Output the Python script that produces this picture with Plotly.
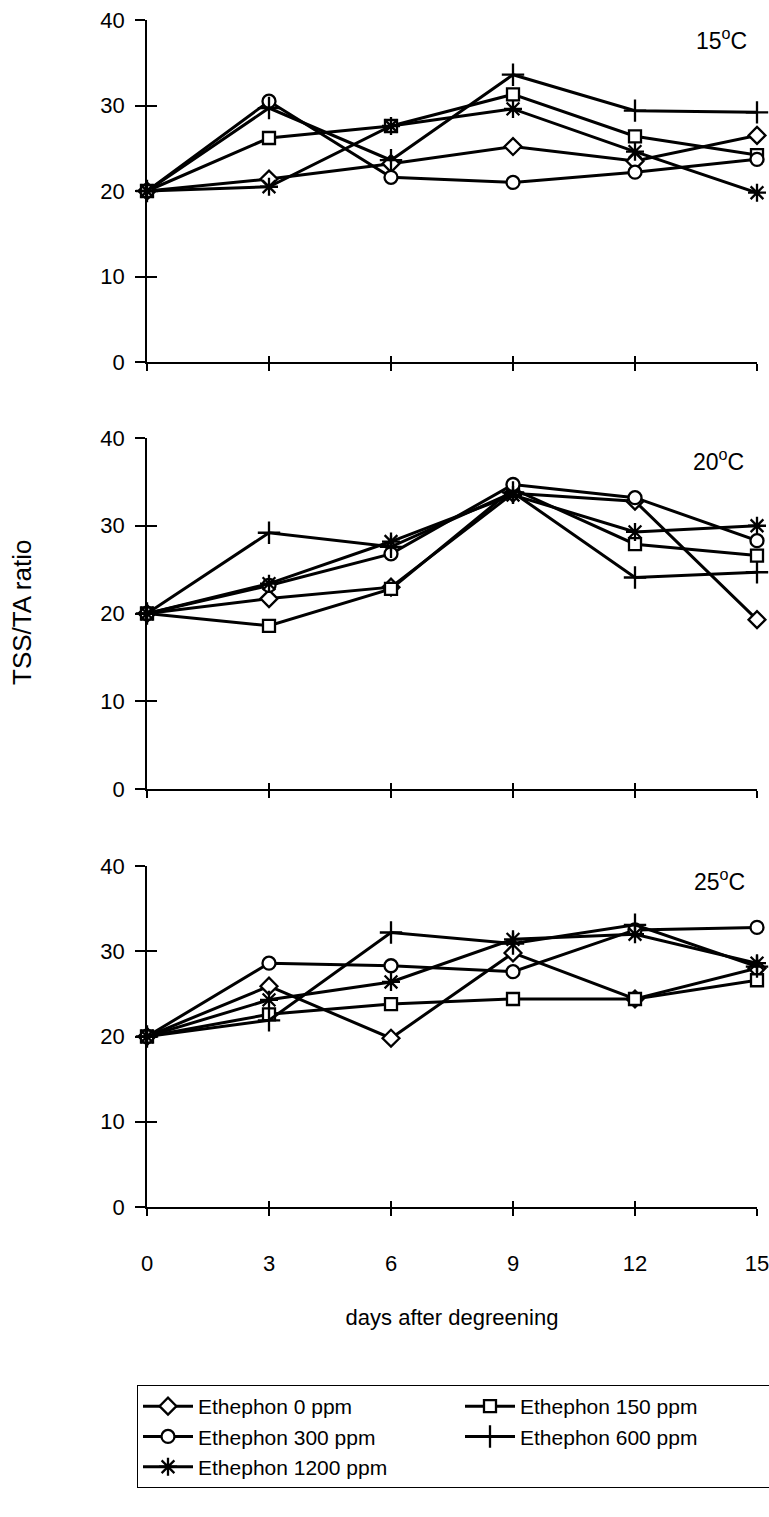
import plotly.graph_objects as go

days = [0, 3, 6, 9, 12, 15]
series_names = ["Ethephon 0 ppm", "Ethephon 150 ppm", "Ethephon 300 ppm",
                "Ethephon 600 ppm", "Ethephon 1200 ppm"]
panel_labels = ["15<sup>o</sup>C", "20<sup>o</sup>C", "25<sup>o</sup>C"]

# 15 C
t15_e0 = [20, 21.4, 23.2, 25.2, 23.5, 26.5]
t15_e150 = [20, 26.2, 27.6, 31.3, 26.4, 24.2]
t15_e300 = [20, 30.5, 21.6, 21.0, 22.2, 23.7]
t15_e600 = [20, 29.7, 23.6, 33.6, 29.4, 29.2]
t15_e1200 = [20, 20.5, 27.6, 29.6, 24.6, 19.8]

# 20 C
t20_e0 = [20, 21.7, 23.0, 33.7, 32.8, 19.3]
t20_e150 = [20, 18.6, 22.8, 34.2, 27.9, 26.6]
t20_e300 = [20, 23.2, 26.8, 34.7, 33.2, 28.3]
t20_e600 = [20, 29.2, 27.6, 33.8, 24.1, 24.7]
t20_e1200 = [20, 23.4, 28.2, 33.5, 29.3, 30.0]

# 25 C
t25_e0 = [20, 25.9, 19.8, 29.8, 24.4, 28.0]
t25_e150 = [20, 22.6, 23.8, 24.4, 24.4, 26.6]
t25_e300 = [20, 28.6, 28.3, 27.6, 32.5, 32.8]
t25_e600 = [20, 21.9, 32.2, 30.9, 33.1, 28.2]
t25_e1200 = [20, 24.3, 26.4, 31.4, 32.0, 28.6]

panels = [
    [t15_e0, t15_e150, t15_e300, t15_e600, t15_e1200],
    [t20_e0, t20_e150, t20_e300, t20_e600, t20_e1200],
    [t25_e0, t25_e150, t25_e300, t25_e600, t25_e1200],
]

symbols = ["diamond", "square", "circle", "cross-thin-open", "asterisk-open"]
fills = ["white", "white", "white", "black", "black"]
sizes = [13, 12, 13, 16, 15]

FONT = "Liberation Sans, Arial, sans-serif"
W, H = 769, 1517
ML, MR, MT, MB = 147, 12, 20, 310
ph = H - MT - MB
pw = W - ML - MR

def dom(top_px, bot_px):
    return [1 - (bot_px - MT) / ph, 1 - (top_px - MT) / ph]

domains = [dom(20, 362), dom(438, 789), dom(866, 1207)]

fig = go.Figure()

for p, series in enumerate(panels):
    xa = "x" if p == 0 else f"x{p+1}"
    ya = "y" if p == 0 else f"y{p+1}"
    for i, vals in enumerate(series):
        fig.add_trace(go.Scatter(
            x=days, y=vals, mode="lines+markers", name=series_names[i],
            xaxis=xa, yaxis=ya, showlegend=(p == 0), legendrank=i,
            line=dict(color="black", width=3),
            marker=dict(symbol=symbols[i], size=sizes[i], color=fills[i],
                        line=dict(color="black", width=2.3)),
            cliponaxis=False,
        ))
    # overlay axes to draw the inner half of crossing ticks
    ox = f"x{p+4}"
    oy = f"y{p+4}"
    fig.add_trace(go.Scatter(x=[], y=[], xaxis=ox, yaxis=ya, showlegend=False,
                             hoverinfo="skip"))
    fig.add_trace(go.Scatter(x=[], y=[], xaxis=xa, yaxis=oy, showlegend=False,
                             hoverinfo="skip"))

layout = dict(
    width=W, height=H,
    margin=dict(l=ML, r=MR, t=MT, b=MB, autoexpand=False),
    paper_bgcolor="white", plot_bgcolor="white",
    font=dict(family=FONT, color="black", size=21),
    showlegend=True,
    legend=dict(
        orientation="h", x=(137 - ML) / pw, y=-(1385 - 1207) / ph,
        xanchor="left", yanchor="top",
        bordercolor="black", borderwidth=1, bgcolor="white",
        font=dict(family=FONT, size=21, color="black"),
        entrywidth=257, entrywidthmode="pixels", itemwidth=50,
        traceorder="normal",
    ),
)

for p in range(3):
    xk = "xaxis" if p == 0 else f"xaxis{p+1}"
    yk = "yaxis" if p == 0 else f"yaxis{p+1}"
    xa = "x" if p == 0 else f"x{p+1}"
    ya = "y" if p == 0 else f"y{p+1}"
    layout[xk] = dict(
        domain=[0, 1], anchor=ya, range=[0, 15],
        tickmode="array", tickvals=days, ticktext=[str(d) for d in days],
        showticklabels=(p == 2), ticks="outside", ticklen=7, tickwidth=1.5,
        tickcolor="black", showline=True, linecolor="black", linewidth=1.5,
        showgrid=False, zeroline=False, ticklabelstandoff=29,
        ticklabeloverflow="allow",
        tickfont=dict(size=22, family=FONT),
    )
    layout[yk] = dict(
        domain=domains[p], anchor=xa, range=[0, 40],
        tickmode="array", tickvals=[0, 10, 20, 30, 40],
        ticks="outside", ticklen=10, tickwidth=1.5, tickcolor="black",
        showline=True, linecolor="black", linewidth=1.5,
        showgrid=False, zeroline=False, ticklabelstandoff=6,
        tickfont=dict(size=22, family=FONT),
    )
    layout[f"xaxis{p+4}"] = dict(
        overlaying=xa, anchor=ya, range=[0, 15], side="bottom",
        tickmode="array", tickvals=days, showticklabels=False,
        ticks="inside", ticklen=6, tickwidth=1.5, tickcolor="black",
        showline=False, showgrid=False, zeroline=False,
    )
    layout[f"yaxis{p+4}"] = dict(
        overlaying=ya, anchor=xa, range=[0, 40], side="left",
        tickmode="array", tickvals=[0, 10, 20, 30, 40], showticklabels=False,
        ticks="inside", ticklen=10, tickwidth=1.5, tickcolor="black",
        showline=False, showgrid=False, zeroline=False,
    )

layout["xaxis3"]["title"] = dict(text="days after degreening",
                                 font=dict(size=22, family=FONT), standoff=34)

annotations = []
label_pos = [(0.941, 0.945), (0.937, 0.937), (0.939, 0.959)]
for p in range(3):
    xa = "x" if p == 0 else f"x{p+1}"
    ya = "y" if p == 0 else f"y{p+1}"
    annotations.append(dict(
        text=panel_labels[p], xref=f"{xa} domain", yref=f"{ya} domain",
        x=label_pos[p][0], y=label_pos[p][1], xanchor="center", yanchor="middle",
        showarrow=False, font=dict(size=23, family=FONT, color="black"),
    ))
annotations.append(dict(
    text="TSS/TA ratio", xref="paper", yref="paper",
    x=(22 - ML) / pw, y=1 - (613 - MT) / ph,
    xanchor="center", yanchor="middle", textangle=-90, showarrow=False,
    font=dict(size=26, family=FONT, color="black"),
))
layout["annotations"] = annotations

fig.update_layout(**layout)
fig.write_html("out.html")
